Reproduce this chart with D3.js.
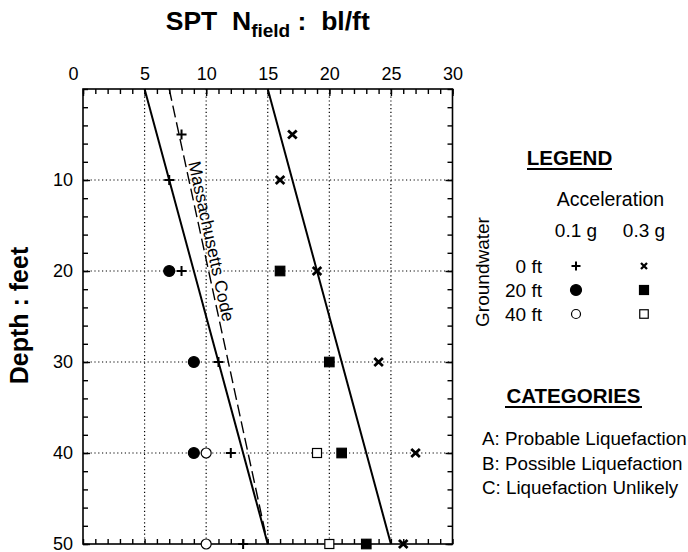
<!DOCTYPE html>
<html>
<head>
<meta charset="utf-8">
<script src="https://cdn.jsdelivr.net/npm/d3@7"></script>
<style>
  body { margin: 0; background: #fff; }
  svg text { font-family: "Liberation Sans", Arial, Helvetica, sans-serif; fill: #000; }
</style>
</head>
<body>
<svg width="688" height="552"></svg>
<script>
// SPT N (bl/ft) vs depth (ft) for each acceleration / groundwater case
var acc01_gw0 = [[8, 5], [7, 10], [8, 20], [11, 30], [12, 40], [13, 50]];
var acc01_gw20 = [[7, 20], [9, 30], [9, 40]];
var acc01_gw40 = [[10, 40], [10, 50]];
var acc03_gw0 = [[17, 5], [16, 10], [19, 20], [24, 30], [27, 40], [26, 50]];
var acc03_gw20 = [[16, 20], [20, 30], [21, 40], [23, 50]];
var acc03_gw40 = [[19, 40], [20, 50]];

// category boundaries and the code line
var lineAB = [[5, 0], [15, 50]];
var lineBC = [[15, 0], [25, 50]];
var massCode = [[7, 0], [15, 50]];

var xTicks = [0, 5, 10, 15, 20, 25, 30];
var yTicks = [10, 20, 30, 40, 50];
var gwLabels = ["0 ft", "20 ft", "40 ft"];
var accLabels = ["0.1 g", "0.3 g"];
var categories = ["A: Probable Liquefaction", "B: Possible Liquefaction", "C: Liquefaction Unlikely"];

var svg = d3.select("svg");
var pL = 83, pR = 452.5, pT = 89, pB = 544;

var x = d3.scaleLinear().domain([0, 30]).range([pL, pR]);
var y = d3.scaleLinear().domain([0, 50]).range([pT, pB]);

var fs = 19;

// dotted grid
var grid = svg.append("g");
grid.selectAll(".gx")
    .data([5, 10, 15, 20, 25])
    .enter().append("line")
    .attr("x1", d => x(d)).attr("x2", d => x(d))
    .attr("y1", pT).attr("y2", pB)
    .attr("stroke", "#000").attr("stroke-width", 1.2)
    .attr("stroke-dasharray", "1.2,2.6");
grid.selectAll(".gy")
    .data([10, 20, 30, 40])
    .enter().append("line")
    .attr("x1", pL).attr("x2", pR)
    .attr("y1", d => y(d)).attr("y2", d => y(d))
    .attr("stroke", "#000").attr("stroke-width", 1.2)
    .attr("stroke-dasharray", "1.2,2.6");

// axes (ticks pointing inward)
function styleAxis(g) {
    g.select(".domain").remove();
    g.selectAll("line").attr("stroke-width", 1.4);
    g.selectAll("text").style("font-size", "18px").attr("font-family", "Liberation Sans, Arial, sans-serif");
}

svg.append("g").attr("transform", "translate(0," + pT + ")")
    .call(d3.axisTop(x).tickValues(d3.range(0, 31, 1)).tickSize(-5).tickFormat(""))
    .call(styleAxis);
svg.append("g").attr("transform", "translate(0," + pT + ")")
    .call(d3.axisTop(x).tickValues(xTicks).tickSize(-7).tickPadding(9).tickFormat(d3.format("d")))
    .call(styleAxis)
    .selectAll("text")
    .attr("dx", d => d == 0 ? -10 : 0);

svg.append("g").attr("transform", "translate(0," + pB + ")")
    .call(d3.axisBottom(x).tickValues(d3.range(0, 31, 1)).tickSize(-5).tickFormat(""))
    .call(styleAxis);

svg.append("g").attr("transform", "translate(" + pL + ",0)")
    .call(d3.axisLeft(y).tickValues(d3.range(0, 51, 2)).tickSize(-5).tickFormat(""))
    .call(styleAxis);
svg.append("g").attr("transform", "translate(" + pL + ",0)")
    .call(d3.axisLeft(y).tickValues(yTicks).tickSize(-7).tickPadding(10).tickFormat(d3.format("d")))
    .call(styleAxis);

svg.append("g").attr("transform", "translate(" + pR + ",0)")
    .call(d3.axisRight(y).tickValues(d3.range(0, 51, 2)).tickSize(-5).tickFormat(""))
    .call(styleAxis);
svg.append("g").attr("transform", "translate(" + pR + ",0)")
    .call(d3.axisRight(y).tickValues(yTicks).tickSize(-7).tickFormat(""))
    .call(styleAxis);

// frame
svg.append("rect")
    .attr("x", pL).attr("y", pT)
    .attr("width", pR - pL).attr("height", pB - pT)
    .attr("fill", "none").attr("stroke", "#000").attr("stroke-width", 1.6);

// boundary lines
var line = d3.line().x(d => x(d[0])).y(d => y(d[1]));
svg.append("path").datum(lineAB).attr("d", line)
    .attr("fill", "none").attr("stroke", "#000").attr("stroke-width", 2);
svg.append("path").datum(lineBC).attr("d", line)
    .attr("fill", "none").attr("stroke", "#000").attr("stroke-width", 2);
svg.append("path").datum(massCode).attr("d", line)
    .attr("fill", "none").attr("stroke", "#000").attr("stroke-width", 1.4)
    .attr("stroke-dasharray", "12,5");

// label along the code line
var labDepth = 8.1;
var t = (labDepth - massCode[0][1]) / (massCode[1][1] - massCode[0][1]);
var labN = massCode[0][0] + t * (massCode[1][0] - massCode[0][0]);
var ang = Math.atan2(y(massCode[1][1]) - y(massCode[0][1]), x(massCode[1][0]) - x(massCode[0][0])) * 180 / Math.PI;
svg.append("text")
    .attr("transform", "translate(" + (x(labN) + 3) + "," + y(labDepth) + ") rotate(" + ang + ")")
    .style("font-size", "17.5px")
    .text("Massachusetts Code");

// marker drawing helpers
function plus(g, s) {
    g.append("path").attr("d", "M" + (-s) + ",0H" + s + "M0," + (-s) + "V" + s)
        .attr("stroke", "#000").attr("stroke-width", 2).attr("fill", "none");
}
function cross(g, sx, sy, w) {
    g.append("path").attr("d", "M" + (-sx) + "," + (-sy) + "L" + sx + "," + sy + "M" + sx + "," + (-sy) + "L" + (-sx) + "," + sy)
        .attr("stroke", "#000").attr("stroke-width", w).attr("fill", "none");
}
function circ(g, r, filled) {
    g.append("circle").attr("r", r)
        .attr("fill", filled ? "#000" : "#fff").attr("stroke", "#000").attr("stroke-width", 1.2);
}
function sq(g, s, filled) {
    g.append("rect").attr("x", -s / 2).attr("y", -s / 2).attr("width", s).attr("height", s)
        .attr("fill", filled ? "#000" : "#fff").attr("stroke", "#000").attr("stroke-width", 1.2);
}

function drawSeries(data, fn) {
    svg.append("g").selectAll("g")
        .data(data)
        .enter().append("g")
        .attr("transform", d => "translate(" + x(d[0]) + "," + y(d[1]) + ")")
        .each(function () { fn(d3.select(this)); });
}

drawSeries(acc01_gw0, g => plus(g, 5));
drawSeries(acc01_gw20, g => circ(g, 5.5, true));
drawSeries(acc01_gw40, g => circ(g, 5, false));
drawSeries(acc03_gw0, g => cross(g, 4.3, 4, 2.8));
drawSeries(acc03_gw20, g => sq(g, 9.5, true));
drawSeries(acc03_gw40, g => sq(g, 9, false));

// titles
var title = svg.append("text")
    .attr("x", (pL + pR) / 2).attr("y", 30)
    .attr("text-anchor", "middle")
    .style("font-size", "26.5px").style("font-weight", "bold")
    .attr("xml:space", "preserve");
title.append("tspan").text("SPT  N");
title.append("tspan").attr("dy", 7).style("font-size", "19px").text("field");
title.append("tspan").attr("dy", -7).text(" :  bl/ft");

svg.append("text")
    .attr("transform", "translate(28," + ((pT + pB) / 2 - 1) + ") rotate(-90)")
    .attr("text-anchor", "middle")
    .attr("xml:space", "preserve")
    .style("font-size", "25px").style("font-weight", "bold")
    .text("Depth : feet");

// legend
var lg = svg.append("g");
lg.append("text").attr("x", 569.5).attr("y", 165).attr("text-anchor", "middle")
    .style("font-size", "20.5px").style("font-weight", "bold").text("LEGEND");
lg.append("line").attr("x1", 527).attr("x2", 612).attr("y1", 169).attr("y2", 169)
    .attr("stroke", "#000").attr("stroke-width", 2);
lg.append("text").attr("x", 610.5).attr("y", 206).attr("text-anchor", "middle")
    .style("font-size", "19.5px").text("Acceleration");

var accX = [576, 644];
var rowY = [266, 290, 314];
lg.selectAll(".acc")
    .data(accLabels)
    .enter().append("text")
    .attr("x", (d, i) => accX[i]).attr("y", 237)
    .attr("text-anchor", "middle")
    .style("font-size", fs + "px")
    .text(d => d);
lg.selectAll(".gw")
    .data(gwLabels)
    .enter().append("text")
    .attr("x", 542).attr("y", (d, i) => rowY[i] + 6.5)
    .attr("text-anchor", "end")
    .style("font-size", fs + "px")
    .text(d => d);
lg.append("text")
    .attr("transform", "translate(489,272) rotate(-90)")
    .attr("text-anchor", "middle")
    .style("font-size", fs + "px")
    .text("Groundwater");

function legendMark(cx, cy, fn) {
    var g = lg.append("g").attr("transform", "translate(" + cx + "," + cy + ")");
    fn(g);
}
legendMark(accX[0], rowY[0], g => plus(g, 4.5));
legendMark(accX[1], rowY[0], g => cross(g, 3, 3, 2.3));
legendMark(accX[0], rowY[1], g => circ(g, 5.5, true));
legendMark(accX[1], rowY[1], g => sq(g, 9, true));
legendMark(accX[0], rowY[2], g => circ(g, 4.5, false));
legendMark(accX[1], rowY[2], g => sq(g, 8.5, false));

// categories
lg.append("text").attr("x", 573.5).attr("y", 403).attr("text-anchor", "middle")
    .style("font-size", "20.5px").style("font-weight", "bold").text("CATEGORIES");
lg.append("line").attr("x1", 505).attr("x2", 642).attr("y1", 407).attr("y2", 407)
    .attr("stroke", "#000").attr("stroke-width", 2);
lg.selectAll(".cat")
    .data(categories)
    .enter().append("text")
    .attr("x", 482).attr("y", (d, i) => 445 + i * 24.5)
    .style("font-size", "18.8px")
    .text(d => d);
</script>
</body>
</html>
